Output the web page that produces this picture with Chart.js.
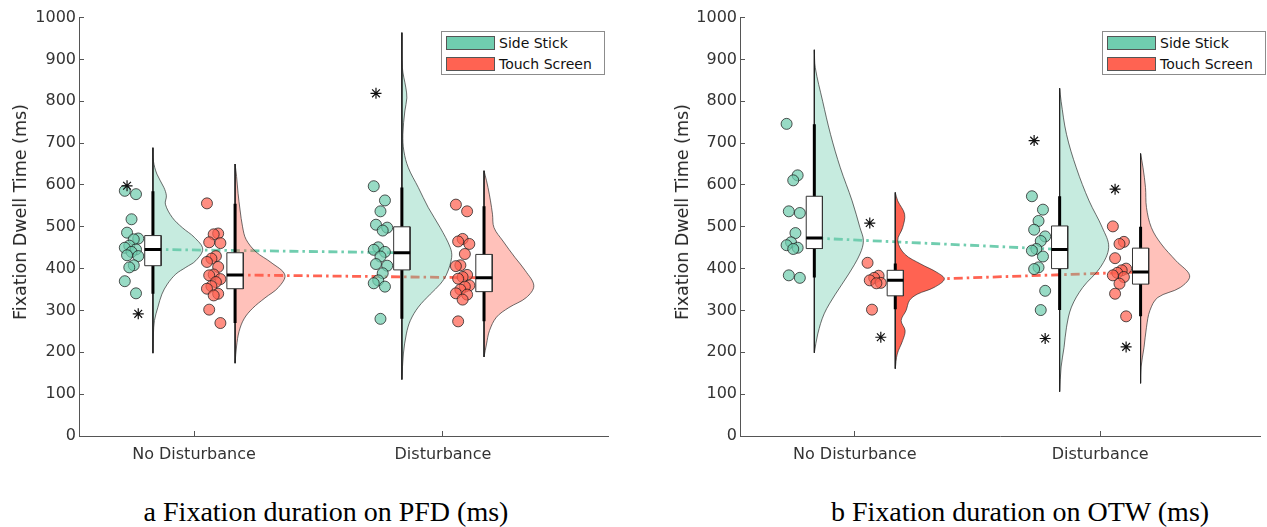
<!DOCTYPE html>
<html>
<head>
<meta charset="utf-8">
<script src="https://cdn.jsdelivr.net/npm/chart.js@4.4.1/dist/chart.umd.min.js"></script>
<style>
  body { margin: 0; background: #fff; width: 1267px; height: 527px; position: relative; overflow: hidden; font-family: 'DejaVu Sans', sans-serif; }
  canvas { position: absolute; top: 0; }
  #cv-pfd { left: 0; }
  #cv-otw { left: 633px; }
  .ytitle { position: absolute; top: 212px; transform: translate(-50%, -50%) rotate(-90deg); white-space: nowrap; font-size: 17.5px; color: #262626; }
  .legend { position: absolute; top: 31px; width: 162px; height: 42px; border: 1px solid #8c8c8c; background: #fff; }
  .legend .item { height: 20px; line-height: 20px; font-size: 14px; color: #111; white-space: nowrap; margin-top: 1px; }
  .legend .sw { display: inline-block; width: 47px; height: 12px; border: 1px solid #555; margin: 0 4px 0 4px; vertical-align: -2px; }
  .caption { position: absolute; top: 496px; transform: translateX(-50%); font-family: 'Liberation Serif', serif; font-size: 28px; line-height: 32px; color: #000; white-space: nowrap; }
</style>
</head>
<body>
<canvas id="cv-pfd" width="633" height="475"></canvas>
<canvas id="cv-otw" width="634" height="475"></canvas>
<div class="ytitle" style="left:20px">Fixation Dwell Time (ms)</div>
<div class="ytitle" style="left:682px">Fixation Dwell Time (ms)</div>
<div class="legend" id="lg-pfd" style="left:441px"></div>
<div class="legend" id="lg-otw" style="left:1102px"></div>
<div class="caption" style="left:326px">a Fixation duration on PFD (ms)</div>
<div class="caption" style="left:1020px">b Fixation duration on OTW (ms)</div>
<script>
'use strict';

const categories = ['No Disturbance', 'Disturbance'];
const groups = ['Side Stick', 'Touch Screen'];

// ---- panel a: PFD ----
const pfdSideND  = [586, 578, 518, 486, 472, 470, 455, 450, 446, 440, 432, 430, 408, 403, 370, 341];
const pfdTouchND = [556, 484, 482, 463, 461, 430, 424, 416, 404, 386, 384, 375, 368, 358, 352, 340, 336, 302, 270];
const pfdSideD   = [597, 563, 537, 505, 498, 491, 451, 445, 440, 429, 411, 407, 389, 372, 365, 357, 280];
const pfdTouchD  = [553, 537, 471, 465, 459, 435, 408, 406, 385, 380, 376, 360, 357, 350, 341, 338, 326, 274];

const pfdOutSideND = [598, 292];
const pfdOutTouchND = [];
const pfdOutSideD = [819];
const pfdOutTouchD = [];

// box: [lower whisker, q1, median, q3, upper whisker]
const pfdBoxSideND  = [340, 407, 446, 479, 585];
const pfdBoxTouchND = [270, 352, 385, 438, 555];
const pfdBoxSideD   = [280, 397, 438, 500, 594];
const pfdBoxTouchD  = [274, 345, 378, 434, 549];

// density: [value, relative density]
const pfdDensSideND  = [[689, 0], [657, .01], [626, .08], [594, .22], [574, .27], [554, .25], [522, .39], [498, .59], [475, .83], [447, 1], [419, .86], [403, .66], [387, .46], [363, .29], [339, .18], [308, .10], [276, .03], [244, .01], [198, 0]];
const pfdDensTouchND = [[650, 0], [620, .03], [580, .06], [540, .10], [500, .15], [470, .22], [440, .42], [415, .72], [385, 1], [355, .87], [330, .60], [305, .35], [280, .18], [250, .08], [215, .03], [174, 0]];
const pfdDensSideD   = [[964, 0], [880, .01], [832, .08], [808, .10], [777, .06], [721, .02], [681, .04], [641, .13], [594, .33], [546, .53], [498, .77], [451, .97], [427, 1], [387, .90], [363, .77], [339, .57], [308, .33], [276, .17], [244, .09], [196, .03], [135, 0]];
const pfdDensTouchD  = [[634, 0], [610, .05], [594, .08], [562, .13], [530, .17], [498, .20], [466, .38], [427, .62], [395, .83], [359, 1], [331, .85], [307, .50], [284, .25], [252, .11], [220, .05], [189, 0]];

// ---- panel b: OTW ----
const otwSideND  = [746, 623, 611, 537, 533, 485, 463, 456, 450, 447, 384, 378];
const otwTouchND = [414, 383, 378, 372, 366, 365, 302];
const otwSideD   = [573, 541, 514, 493, 477, 466, 447, 443, 429, 403, 399, 347, 301];
const otwTouchD  = [501, 464, 459, 425, 400, 396, 390, 384, 380, 364, 340, 286];

const otwOutSideND = [];
const otwOutTouchND = [509, 236];
const otwOutSideD = [706, 233];
const otwOutTouchD = [590, 213];

const otwBoxSideND  = [379, 448, 473, 573, 745];
const otwBoxTouchND = [303, 335, 372, 396, 412];
const otwBoxSideD   = [301, 400, 446, 502, 573];
const otwBoxTouchD  = [286, 363, 392, 449, 500];

const otwDensSideND  = [[923, 0], [880, .02], [800, .17], [721, .33], [641, .53], [562, .77], [498, .93], [467, 1], [435, .93], [387, .70], [339, .43], [292, .20], [244, .07], [199, 0]];
const otwDensTouchND = [[582, 0], [562, .05], [530, .19], [498, .15], [467, .05], [435, .19], [411, .52], [391, .85], [375, 1], [355, .79], [339, .45], [324, .29], [300, .22], [276, .12], [252, .20], [228, .15], [196, .04], [161, 0]];
const otwDensSideD   = [[831, 0], [800, .03], [721, .14], [641, .34], [562, .60], [498, .87], [451, 1], [403, .83], [355, .47], [308, .24], [260, .14], [212, .09], [165, .03], [106, 0]];
const otwDensTouchD  = [[675, 0], [641, .05], [594, .10], [546, .12], [498, .22], [459, .42], [419, .72], [383, 1], [355, .81], [331, .35], [300, .19], [260, .12], [212, .07], [165, .01], [126, 0]];

const GREEN = [112, 205, 175];
const RED = [255, 99, 82];
const rgba = (c, a) => `rgba(${c[0]},${c[1]},${c[2]},${a})`;

const BOX_OFFSET = 0.165;  // whisker position from category centre
const BOX_HW = 0.033;      // half box width
const VIOLIN_W = 0.2;      // width of violin at peak density
const DOT_SHIFT = 0.086;   // dots sit left of the whisker
const FONT = "'DejaVu Sans', sans-serif";

// small deterministic spread so markers don't sit in one column
const spread = i => (((i * 5) % 7) - 3) * 0.009;

function seg(data, extra) {
  return Object.assign({ type: 'line', data, pointRadius: 0, tension: 0, fill: false, borderWidth: 1 }, extra);
}

function buildDatasets(panel) {
  const ds = [];
  panel.forEach(g => {
    const base = g.cat + g.side * BOX_OFFSET;
    const [lo, q1, med, q3, hi] = g.box;
    const top = g.dens[0][0];
    const bot = g.dens[g.dens.length - 1][0];

    ds.push({
      type: 'line', order: 9,
      data: g.dens.map(([v, d]) => ({ x: base + d * VIOLIN_W, y: v })),
      fill: 'shape', backgroundColor: rgba(g.color, g.alpha),
      borderColor: 'rgba(40,40,40,0.85)', borderWidth: 0.8, tension: 0.35, pointRadius: 0
    });
    ds.push(seg([{ x: base, y: top }, { x: base, y: bot }], { order: 8, borderColor: '#222', borderWidth: 1 }));
    ds.push(seg([{ x: base, y: lo }, { x: base, y: hi }], { order: 7, borderColor: '#000', borderWidth: 3 }));
    ds.push(seg([
      { x: base - BOX_HW, y: q1 }, { x: base - BOX_HW, y: q3 },
      { x: base + BOX_HW, y: q3 }, { x: base + BOX_HW, y: q1 }, { x: base - BOX_HW, y: q1 }
    ], { order: 6, fill: 'shape', backgroundColor: '#fff', borderColor: '#333', borderWidth: 1 }));
    ds.push(seg([{ x: base - BOX_HW, y: med }, { x: base + BOX_HW, y: med }], { order: 5, borderColor: '#000', borderWidth: 3 }));

    const dotX = base - DOT_SHIFT;
    ds.push({
      type: 'scatter', order: 4,
      data: g.points.map((v, i) => ({ x: dotX + spread(i), y: v })),
      pointRadius: 5.5, backgroundColor: rgba(g.color, 0.72),
      borderColor: 'rgba(30,30,30,0.75)', borderWidth: 1
    });
    if (g.out.length) {
      ds.push({
        type: 'scatter', order: 3,
        data: g.out.map((v, i) => ({ x: dotX + spread(i + 3), y: v })),
        pointStyle: 'star', pointRadius: 5.5, borderColor: '#111', borderWidth: 1.2
      });
    }
  });

  // dashed lines joining the medians across conditions
  [-1, 1].forEach(side => {
    const pair = panel.filter(g => g.side === side).sort((a, b) => a.cat - b.cat);
    ds.push(seg(pair.map(g => ({ x: g.cat + side * BOX_OFFSET, y: g.box[2] })), {
      order: 10, borderColor: rgba(pair[0].color, 1), borderWidth: 2.8, borderDash: [9, 4, 2.5, 4]
    }));
  });
  return ds;
}

function renderPanel(id, panel, xMin, xMax, yWidth, padRight) {
  const axisColor = '#555';
  return new Chart(document.getElementById(id), {
    type: 'scatter',
    data: { datasets: buildDatasets(panel) },
    options: {
      responsive: false,
      animation: false,
      events: [],
      layout: { padding: { left: 0, right: padRight, top: 17, bottom: 0 } },
      plugins: { legend: { display: false }, tooltip: { enabled: false } },
      scales: {
        x: {
          type: 'linear', min: xMin, max: xMax,
          afterBuildTicks: ax => { ax.ticks = [{ value: 1 }, { value: 2 }]; },
          afterFit: s => { s.height = 39; },
          grid: { drawOnChartArea: false, tickLength: -5, color: axisColor },
          border: { color: axisColor },
          ticks: { padding: 14, color: '#333', font: { family: FONT, size: 16 }, callback: v => categories[v - 1] }
        },
        y: {
          min: 0, max: 1000,
          afterFit: s => { s.width = yWidth; },
          grid: { drawOnChartArea: false, tickLength: -5, color: axisColor },
          border: { color: axisColor },
          ticks: { stepSize: 100, padding: 8, color: '#333', font: { family: FONT, size: 16 }, callback: v => String(v) }
        }
      }
    }
  });
}

function renderLegend(id) {
  const el = document.getElementById(id);
  el.innerHTML = groups.map((name, i) =>
    `<div class="item"><span class="sw" style="background:${rgba(i ? RED : GREEN, 1)}"></span>${name}</div>`
  ).join('');
}

const pfdPanel = [
  { cat: 1, side: -1, color: GREEN, alpha: 0.4, points: pfdSideND,  out: pfdOutSideND,  box: pfdBoxSideND,  dens: pfdDensSideND },
  { cat: 1, side: 1,  color: RED,   alpha: 0.4, points: pfdTouchND, out: pfdOutTouchND, box: pfdBoxTouchND, dens: pfdDensTouchND },
  { cat: 2, side: -1, color: GREEN, alpha: 0.4, points: pfdSideD,   out: pfdOutSideD,   box: pfdBoxSideD,   dens: pfdDensSideD },
  { cat: 2, side: 1,  color: RED,   alpha: 0.4, points: pfdTouchD,  out: pfdOutTouchD,  box: pfdBoxTouchD,  dens: pfdDensTouchD }
];
const otwPanel = [
  { cat: 1, side: -1, color: GREEN, alpha: 0.4, points: otwSideND,  out: otwOutSideND,  box: otwBoxSideND,  dens: otwDensSideND },
  { cat: 1, side: 1,  color: RED,   alpha: 1,   points: otwTouchND, out: otwOutTouchND, box: otwBoxTouchND, dens: otwDensTouchND },
  { cat: 2, side: -1, color: GREEN, alpha: 0.4, points: otwSideD,   out: otwOutSideD,   box: otwBoxSideD,   dens: otwDensSideD },
  { cat: 2, side: 1,  color: RED,   alpha: 0.4, points: otwTouchD,  out: otwOutTouchD,  box: otwBoxTouchD,  dens: otwDensTouchD }
];

renderPanel('cv-pfd', pfdPanel, 0.538, 2.663, 79, 25);
renderPanel('cv-otw', otwPanel, 0.532, 2.653, 107, 1);
renderLegend('lg-pfd');
renderLegend('lg-otw');
</script>
</body>
</html>
